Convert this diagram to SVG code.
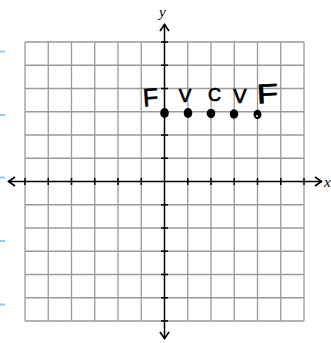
<svg xmlns="http://www.w3.org/2000/svg" width="331" height="343" viewBox="0 0 331 343">
<defs>
<style>
.grid{stroke:#9a9a9a;stroke-width:1.3;fill:none}
.axis{stroke:#000;stroke-width:1.5;fill:none}
.tick{stroke:#000;stroke-width:1.5}
.arrow{stroke:#000;stroke-width:1.6;fill:none;stroke-linejoin:miter}
.blue{fill:#93c6f2}
.lbl{font-family:"Liberation Serif",serif;font-style:italic;font-size:15px;fill:#000}
.hand{font-family:"Liberation Sans",sans-serif;fill:#000;stroke:#000;stroke-width:0.7;stroke-linejoin:round;text-anchor:middle}
.dot{fill:#000}
</style>
</defs>
<rect width="331" height="343" fill="#fff"/>
<g id="margin-marks">
<rect class="blue" x="0" y="50.5" width="5" height="2"/>
<rect class="blue" x="0" y="114" width="5" height="2"/>
<rect class="blue" x="0" y="176.5" width="5" height="2"/>
<rect class="blue" x="0" y="240" width="5" height="2"/>
<rect class="blue" x="0" y="303.5" width="5" height="2"/>
</g>
<g id="grid">
<path class="grid" d="M25 42V321M48.25 42V321M71.5 42V321M94.75 42V321M118 42V321M141.25 42V321M187.75 42V321M211 42V321M234.25 42V321M257.5 42V321M280.75 42V321M304 42V321
M25 42H304M25 65.25H304M25 88.5H304M25 111.75H304M25 135H304M25 158.25H304M25 204.75H304M25 228H304M25 251.25H304M25 274.5H304M25 297.75H304M25 321H304"/>
</g>
<g id="connectors">
<path class="axis" d="M8 181.5H322M164.5 24V339"/>
<path class="tick" d="M25 178V185M48.25 178V185M71.5 178V185M94.75 178V185M118 178V185M141.25 178V185M187.75 178V185M211 178V185M234.25 178V185M257.5 178V185M280.75 178V185M304 178V185
M161 42H168M161 65.25H168M161 88.5H168M161 111.75H168M161 135H168M161 158.25H168M161 204.75H168M161 228H168M161 251.25H168M161 274.5H168M161 297.75H168M161 321H168"/>
<path class="arrow" d="M15 177L8.5 181.5L15 186"/>
<path class="arrow" d="M315 177L321.5 181.5L315 186"/>
<path class="arrow" d="M160 31L164.5 24.5L169 31"/>
<path class="arrow" d="M160 332L164.5 338.5L169 332"/>
</g>
<g id="axis-labels">
<text class="lbl" x="159" y="17">y</text>
<text class="lbl" x="324" y="187">x</text>
</g>
<g id="letters">
<text class="hand" transform="translate(151,106) rotate(-4)" x="0" y="0" font-size="25">F</text>
<text class="hand" x="185" y="102" font-size="19">V</text>
<text class="hand" x="214.5" y="100.5" font-size="18">C</text>
<text class="hand" x="240" y="103" font-size="20">V</text>
<text class="hand" transform="translate(268,103) rotate(-3) scale(1.3,1)" x="0" y="0" font-size="27">F</text>
</g>
<g id="points">
<ellipse class="dot" cx="164.5" cy="113" rx="4.3" ry="5"/>
<ellipse class="dot" cx="188" cy="113" rx="4.3" ry="5"/>
<ellipse class="dot" cx="211" cy="113.5" rx="4.3" ry="4.7"/>
<ellipse class="dot" cx="234" cy="114" rx="4.3" ry="4.7"/>
<ellipse class="dot" cx="257.5" cy="114.5" rx="4" ry="4.7"/>
<ellipse cx="257" cy="116" rx="1" ry="1" fill="#fff"/>
</g>
</svg>
